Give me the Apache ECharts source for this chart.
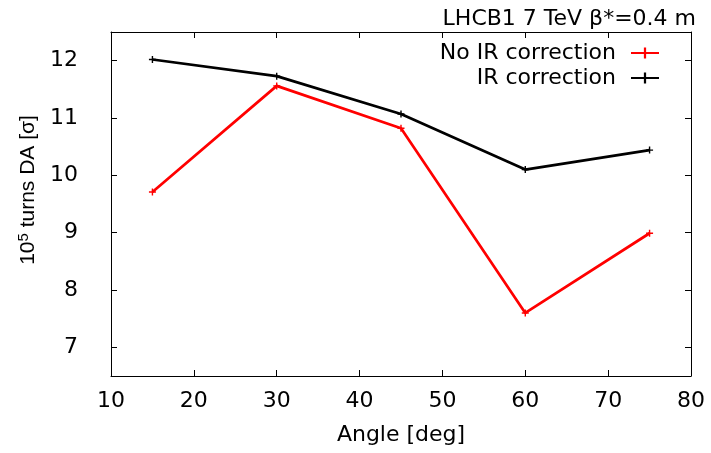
<!DOCTYPE html>
<html>
<head>
<meta charset="utf-8">
<script src="https://cdn.jsdelivr.net/npm/echarts@6/dist/echarts.min.js"></script>
<style>
  html, body { margin: 0; padding: 0; background: #fff; }
  #chart { width: 711px; height: 453px; }
</style>
</head>
<body>
<div id="chart"></div>
<script>
// Dynamic aperture vs. angle, LHC beam 1 at 7 TeV, beta* = 0.4 m
const angles = [15, 30, 45, 60, 75];
const daNoCorrection = [9.71, 11.56, 10.82, 7.60, 8.99];
const daCorrection = [12.02, 11.73, 11.07, 10.10, 10.44];
const yTicks = [7, 8, 9, 10, 11, 12];
const seriesNames = ['No IR correction', 'IR correction'];

const FONT = '"DejaVu Sans", sans-serif';
const FONT_V = '"Liberation Sans", Arial, sans-serif';
const FS = 22;
const plus = 'path://M4,0H6V4H10V6H6V10H4V6H0V4H4Z';

const toPairs = (xs, ys) => xs.map((x, i) => [x, ys[i]]);

const xCommon = {
  type: 'value', min: 10, max: 80, interval: 10,
  splitLine: { show: false },
  axisLine: { show: true, onZero: false, lineStyle: { color: '#000', width: 1 } },
  axisTick: { show: true, inside: true, length: 6, lineStyle: { color: '#000' } }
};
const yCommon = {
  type: 'value', min: 6.5, max: 12.5,
  splitLine: { show: false },
  axisLine: { show: true, onZero: false, lineStyle: { color: '#000', width: 1 } },
  axisTick: { show: true, inside: true, length: 6, customValues: yTicks, lineStyle: { color: '#000' } }
};

const chart = echarts.init(document.getElementById('chart'), null, { renderer: 'canvas' });
chart.setOption({
  backgroundColor: '#fff',
  animation: false,
  textStyle: { fontFamily: FONT },
  title: {
    text: 'LHCB1 7 TeV β*=0.4 m',
    right: 10, top: 3,
    textStyle: { fontFamily: FONT, fontSize: FS, fontWeight: 'normal', color: '#000' }
  },
  legend: {
    data: seriesNames,
    orient: 'vertical',
    align: 'right',
    right: 46, top: 37,
    itemWidth: 28, itemHeight: 14, itemGap: 3,
    textStyle: { fontFamily: FONT, fontSize: FS, lineHeight: 22, color: '#000', padding: [0, 10, 0, 0] }
  },
  grid: { left: 111, right: 20, top: 32, bottom: 77, containLabel: false },
  xAxis: [
    Object.assign({}, xCommon, {
      position: 'bottom',
      axisLabel: { color: '#000', fontFamily: FONT, fontSize: FS, margin: 14 },
      name: 'Angle [deg]', nameLocation: 'middle', nameGap: 48,
      nameTextStyle: { color: '#000', fontFamily: FONT, fontSize: FS }
    }),
    Object.assign({}, xCommon, { position: 'top', axisLabel: { show: false } })
  ],
  yAxis: [
    Object.assign({}, yCommon, {
      position: 'left',
      axisLabel: { color: '#000', fontFamily: FONT, fontSize: FS, margin: 33, customValues: yTicks },
      name: '{a|10}{s|5}{a| turns DA [σ]}',
      nameLocation: 'middle', nameGap: 58,
      nameTextStyle: {
        color: '#000', fontFamily: FONT_V, fontSize: 21,
        padding: [0, 0, 0, 28],
        rich: {
          a: { fontFamily: FONT_V, fontSize: 21, color: '#000' },
          s: { fontFamily: FONT_V, fontSize: 15, color: '#000', verticalAlign: 'bottom', padding: [0, 0, 9, 0] }
        }
      }
    }),
    Object.assign({}, yCommon, { position: 'right', axisLabel: { show: false } })
  ],
  series: [
    {
      name: seriesNames[0], type: 'line',
      data: toPairs(angles, daNoCorrection),
      symbol: plus, symbolSize: 7,
      lineStyle: { color: '#ff0000', width: 2.7 },
      itemStyle: { color: '#ff0000' }
    },
    {
      name: seriesNames[1], type: 'line',
      data: toPairs(angles, daCorrection),
      symbol: plus, symbolSize: 7,
      lineStyle: { color: '#000', width: 2.7 },
      itemStyle: { color: '#000' }
    }
  ]
});
</script>
</body>
</html>
